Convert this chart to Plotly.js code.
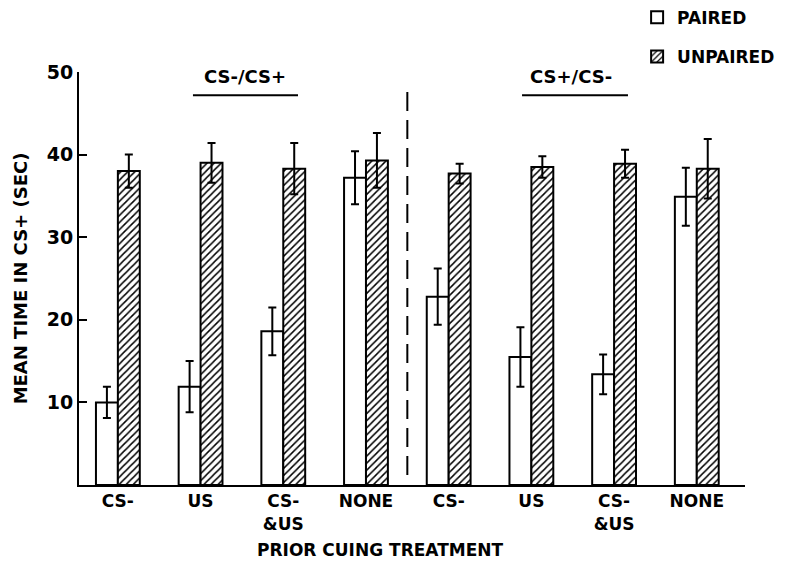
<!DOCTYPE html>
<html>
<head>
<meta charset="utf-8">
<script src="https://cdn.plot.ly/plotly-3.0.1.min.js"></script>
<style>html,body{margin:0;padding:0;background:#fff;}#chart{width:787px;height:570px;}</style>
</head>
<body>
<div id="chart"></div>
<script>
// Data
var positions = [0, 1, 2, 3, 4, 5, 6, 7];
var tickLabels = ["CS-", "US", "CS-<br>&amp;US", "NONE", "CS-", "US", "CS-<br>&amp;US", "NONE"];
var pairedMean = [10.0, 11.9, 18.6, 37.2, 22.8, 15.5, 13.4, 34.9];
var pairedErr = [1.9, 3.1, 2.9, 3.2, 3.4, 3.6, 2.4, 3.5];
var unpairedMean = [38.0, 39.0, 38.3, 39.3, 37.7, 38.5, 38.9, 38.3];
var unpairedErr = [2.0, 2.4, 3.1, 3.3, 1.2, 1.3, 1.7, 3.6];
var yTicks = [10, 20, 30, 40, 50];
var groupLabels = ["CS-/CS+", "CS+/CS-"];
var xTitle = "PRIOR CUING TREATMENT";
var yTitle = "MEAN TIME IN CS+ (SEC)";

var FONT = "DejaVu Sans, Liberation Sans, sans-serif";

var paired = {
  type: "bar", name: "PAIRED", x: positions, y: pairedMean,
  legendgroup: "a",
  marker: {color: "#ffffff", line: {color: "#000", width: 2}},
  error_y: {type: "data", array: pairedErr, visible: true, color: "#000", thickness: 2, width: 4}
};
var unpaired = {
  type: "bar", name: "UNPAIRED", x: positions, y: unpairedMean,
  legendgroup: "b",
  marker: {color: "#ffffff", line: {color: "#000", width: 2},
           pattern: {shape: "/", fgcolor: "#000", bgcolor: "#fff", size: 5, solidity: 0.3}},
  error_y: {type: "data", array: unpairedErr, visible: true, color: "#000", thickness: 2, width: 4}
};

var layout = {
  width: 787, height: 570,
  margin: {l: 79, r: 42, t: 72, b: 85, autoexpand: false},
  paper_bgcolor: "#fff", plot_bgcolor: "#fff",
  barmode: "group", bargap: 0.47, bargroupgap: 0,
  font: {family: FONT, color: "#000"},
  showlegend: true,
  legend: {x: 0.838, xanchor: "left", y: 1.175, yanchor: "top",
           font: {family: FONT, size: 17, weight: "bold"}, tracegroupgap: 14,
           bgcolor: "rgba(0,0,0,0)", itemwidth: 30},
  xaxis: {
    range: [-0.47, 7.583], tickmode: "array", tickvals: positions, ticktext: tickLabels,
    showline: true, linecolor: "#000", linewidth: 2, ticks: "", showgrid: false, zeroline: false,
    tickfont: {family: FONT, size: 17, weight: "bold"}
  },
  yaxis: {
    range: [0, 50], tickmode: "array", tickvals: yTicks,
    showline: true, linecolor: "#000", linewidth: 2, ticks: "inside", ticklen: 8, tickwidth: 2, tickcolor: "#000",
    showgrid: false, zeroline: false,
    tickfont: {family: FONT, size: 19, weight: "bold"},
    title: {text: yTitle, font: {family: FONT, size: 18, weight: "bold"}, standoff: 14}
  },
  shapes: [
    {type: "line", xref: "x", yref: "y", x0: 3.5, x1: 3.5, y0: 1.2, y1: 48.3,
     line: {color: "#000", width: 2, dash: "19px,9px"}},
    {type: "line", xref: "x", yref: "y", x0: 0.908, x1: 2.178, y0: 47.2, y1: 47.2,
     line: {color: "#000", width: 2}},
    {type: "line", xref: "x", yref: "y", x0: 4.887, x1: 6.168, y0: 47.2, y1: 47.2,
     line: {color: "#000", width: 2}}
  ],
  annotations: [
    {xref: "x", yref: "y", x: 1.54, y: 49.5, text: groupLabels[0], showarrow: false,
     font: {family: FONT, size: 18, weight: "bold"}},
    {xref: "x", yref: "y", x: 5.48, y: 49.5, text: groupLabels[1], showarrow: false,
     font: {family: FONT, size: 18, weight: "bold"}},
    {xref: "paper", yref: "paper", x: 0.452, y: -0.157, yanchor: "middle", text: xTitle, showarrow: false,
     font: {family: FONT, size: 17, weight: "bold"}}
  ]
};

Plotly.newPlot("chart", [paired, unpaired], layout, {displayModeBar: false, staticPlot: true});
</script>
</body>
</html>
